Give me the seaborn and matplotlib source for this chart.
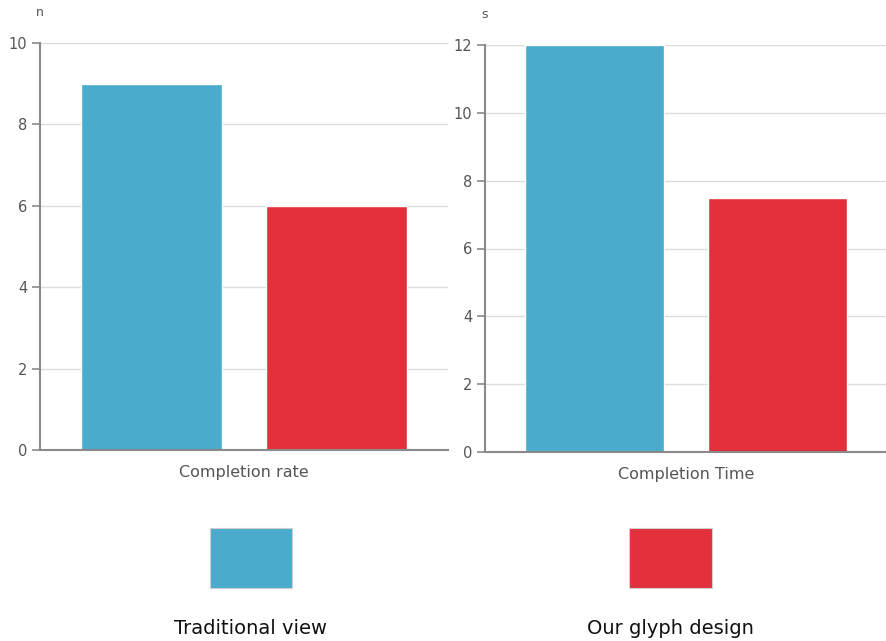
import matplotlib
matplotlib.use("Agg")
import matplotlib.pyplot as plt
import seaborn as sns
import pandas as pd
from matplotlib.patches import Rectangle

groups = ["Traditional view", "Our glyph design"]
colors = ["#4BABCD", "#E2303C"]
rate_values = [9, 6]
time_values = [12, 7.5]
rate_ticks = [0, 2, 4, 6, 8, 10]
time_ticks = [0, 2, 4, 6, 8, 10, 12]

sns.set_theme(style="white")
plt.rcParams['font.family'] = ['DejaVu Sans']

fig = plt.figure(figsize=(8.87, 6.41), dpi=100)
W, H = 887, 641

def px_axes(x0, y_top, x1, y_bot):
    return fig.add_axes([x0 / W, 1 - y_bot / H, (x1 - x0) / W, (y_bot - y_top) / H])

ax1 = px_axes(40, 43, 448, 450)
ax2 = px_axes(485, 45, 887, 452)

palette = dict(zip(groups, colors))
spine_c = "#8a8a8a"
for ax, cat, vals, ticks, unit in [
    (ax1, "Completion rate", rate_values, rate_ticks, "n"),
    (ax2, "Completion Time", time_values, time_ticks, "s"),
]:
    df = pd.DataFrame({"cat": [cat] * 2, "group": groups, "value": vals})
    sns.barplot(data=df, x="cat", y="value", hue="group", palette=palette,
                width=0.907, gap=0.237, ax=ax, legend=False, saturation=1)
    ax.set_xlim(-0.5, 0.5)
    ax.set_ylim(0, ticks[-1])
    ax.set_yticks(ticks)
    ax.yaxis.grid(True, color="#dcdcdc", linewidth=1)
    ax.set_axisbelow(True)
    for s in ["top", "right"]:
        ax.spines[s].set_visible(False)
    for s in ["left", "bottom"]:
        ax.spines[s].set_color(spine_c)
        ax.spines[s].set_linewidth(1.5)
    ax.tick_params(axis="y", left=True, length=6, width=1.2, color=spine_c,
                   labelsize=10.5, labelcolor="#555555", pad=3)
    ax.tick_params(axis="x", bottom=False, labelsize=11.5, labelcolor="#555555", pad=5)
    ax.set_xlabel("")
    ax.set_ylabel("")
    ax.text(0, 1.075, unit, transform=ax.transAxes, fontsize=9,
            color="#555555", ha="center", va="center")

# legend
for (x0, x1, tx), g, c in zip([(210, 292, 251), (629, 712, 670)], groups, colors):
    fig.patches.append(Rectangle((x0 / W, 1 - 588 / H), (x1 - x0) / W, 60 / H,
                                 transform=fig.transFigure, facecolor=c,
                                 edgecolor="#cfcfcf", linewidth=0.8))
    fig.text(tx / W, 1 - 629 / H, g, ha="center", va="center", fontsize=14,
             color="#111111")

fig.savefig("out.png", dpi=100)
